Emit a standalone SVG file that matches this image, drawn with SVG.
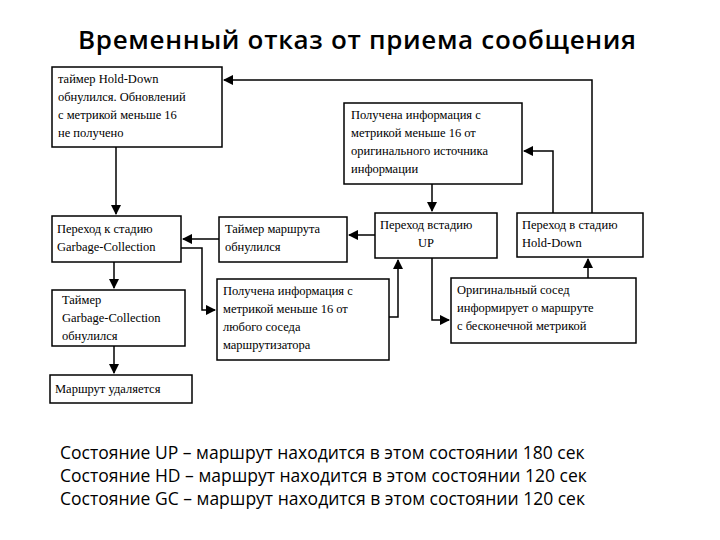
<svg xmlns="http://www.w3.org/2000/svg" width="720" height="540" viewBox="0 0 720 540">
<style>
.b{fill:#fff;stroke:#000;stroke-width:1.5}
.t{font-family:"Liberation Serif",serif;font-size:12.5px;fill:#000}
.c{fill:none;stroke:#000;stroke-width:1.5;marker-end:url(#a)}
.f{font-family:"Open Sans","Liberation Sans",sans-serif;fill:#000}
</style>
<defs><marker id="a" viewBox="0 0 10 10" refX="9" refY="5" markerWidth="7" markerHeight="7" orient="auto"><path d="M0,0L10,5L0,10z" fill="#000"/></marker></defs>
<rect width="720" height="540" fill="#fff"/>
<text class="f" x="357" y="49" font-size="26" font-weight="600" text-anchor="middle" textLength="558">Временный отказ от приема сообщения</text>
<g id="connectors">
<path class="c" d="M592,213V80H224"/>
<path class="c" d="M553,213V151H524"/>
<path class="c" d="M432,184V211"/>
<path class="c" d="M375,235H349"/>
<path class="c" d="M219,239H183"/>
<path class="c" d="M116,147V214"/>
<path class="c" d="M181,248H202V310H215"/>
<path class="c" d="M389,317H398V260"/>
<path class="c" d="M432,258V320H449"/>
<path class="c" d="M588,278V259"/>
<path class="c" d="M114,262V288"/>
<path class="c" d="M114,346V373"/>
</g>
<g id="n1"><rect class="b" x="52" y="67" width="170" height="80"/><text class="t" x="58" y="83">таймер Hold-Down</text><text class="t" x="58" y="101">обнулился. Обновлений</text><text class="t" x="58" y="119">с метрикой меньше 16</text><text class="t" x="58" y="137">не получено</text></g>
<g id="n2"><rect class="b" x="344" y="103" width="178" height="81"/><text class="t" x="351" y="119">Получена информация с</text><text class="t" x="351" y="137">метрикой меньше 16 от</text><text class="t" x="351" y="155">оригинального источника</text><text class="t" x="351" y="173">информации</text></g>
<g id="n3"><rect class="b" x="52" y="216" width="129" height="46"/><text class="t" x="57" y="233">Переход к стадию</text><text class="t" x="57" y="251">Garbage-Collection</text></g>
<g id="n4"><rect class="b" x="219" y="217" width="128" height="45"/><text class="t" x="225" y="233">Таймер маршрута</text><text class="t" x="225" y="251">обнулился</text></g>
<g id="n5"><rect class="b" x="375" y="213" width="122" height="45"/><text class="t" x="380" y="229">Переход встадию</text><text class="t" x="418" y="247">UP</text></g>
<g id="n6"><rect class="b" x="517" y="213" width="126" height="44"/><text class="t" x="522" y="229">Переход в стадию</text><text class="t" x="522" y="247">Hold-Down</text></g>
<g id="n7"><rect class="b" x="217" y="279" width="172" height="81"/><text class="t" x="223" y="295">Получена информация с</text><text class="t" x="223" y="313">метрикой меньше 16 от</text><text class="t" x="223" y="331">любого соседа</text><text class="t" x="223" y="349">маршрутизатора</text></g>
<g id="n8"><rect class="b" x="451" y="278" width="185" height="65"/><text class="t" x="457" y="294">Оригинальный сосед</text><text class="t" x="457" y="312">информирует о маршруте</text><text class="t" x="457" y="330">с бесконечной метрикой</text></g>
<g id="n9"><rect class="b" x="52" y="290" width="133" height="56"/><text class="t" x="62" y="304">Таймер</text><text class="t" x="62" y="322">Garbage-Collection</text><text class="t" x="62" y="340">обнулился</text></g>
<g id="n10"><rect class="b" x="50" y="375" width="142" height="28"/><text class="t" x="55" y="393">Маршрут удаляется</text></g>
<text class="f" x="60" y="459" font-size="17.5">Состояние UP – маршрут находится в этом состоянии 180 сек</text>
<text class="f" x="60" y="482" font-size="17.5">Состояние HD – маршрут находится в этом состоянии 120 сек</text>
<text class="f" x="60" y="505" font-size="17.5">Состояние GC – маршрут находится в этом состоянии 120 сек</text>
</svg>
